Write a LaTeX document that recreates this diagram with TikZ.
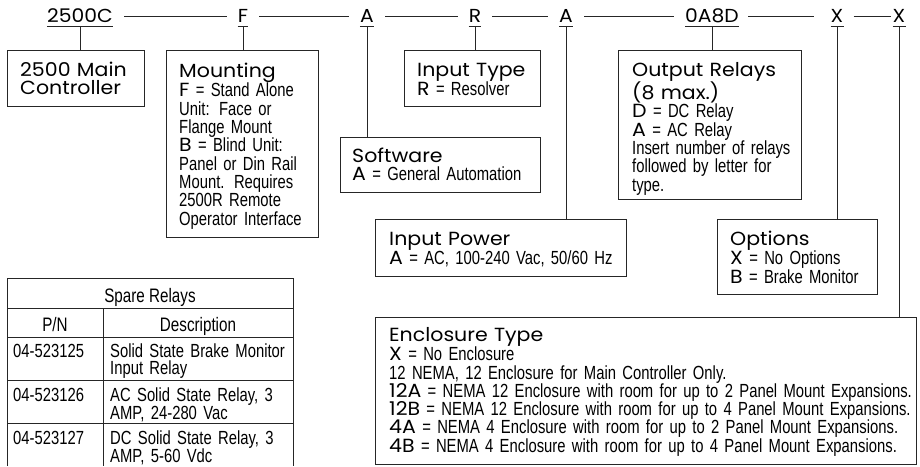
\documentclass[tikz,border=0pt]{standalone}
\usepackage{fontspec}
\setmainfont{Liberation Sans}
\newfontfamily\hfont[FakeStretch=1.08]{Poppins}
\newfontfamily\nfont[FakeStretch=0.78]{Liberation Sans}
\newcommand{\hf}[1]{{\hfont #1}}
\usetikzlibrary{positioning,calc}

\begin{document}
\begin{tikzpicture}[x=1pt, y=-1pt,
    box/.style={draw=black!85, line width=1pt, anchor=north west, inner sep=0pt},
    txt/.style={anchor=base west, inner sep=0pt, align=left, text width=540pt, font=\nfont\fontsize{19}{18.3}\selectfont},
    code/.style={inner sep=0pt, text height=13pt, text depth=0pt, font=\hfont\fontsize{18.8}{18.8}\selectfont},
    link/.style={draw=black!85, line width=0.9pt, shorten <=11pt, shorten >=11pt},
    drop/.style={draw=black!85, line width=1pt},
    th/.style={anchor=base, inner sep=0pt, font=\nfont\fontsize{19.5}{17}\selectfont},
    td/.style={anchor=base west, inner sep=0pt, align=left, text width=200pt, font=\nfont\fontsize{19}{17}\selectfont}
]
    \useasboundingbox (0,0) rectangle (920,466);

    % part number row
    \node[code] (pn-ctl) at (80,16) {2500C};
    \node[code] (pn-mnt) at (243,16) {F};
    \node[code] (pn-sw) at (367,16) {A};
    \node[code] (pn-in) at (475,16) {R};
    \node[code] (pn-pwr) at (566,16) {A};
    \node[code] (pn-out) at (712,16) {0A8D};
    \node[code] (pn-opt) at (837,16) {X};
    \node[code] (pn-enc) at (899,16) {X};

    \draw[link] (pn-ctl) -- (pn-mnt);
    \draw[link] (pn-mnt) -- (pn-sw);
    \draw[link] (pn-sw) -- (pn-in);
    \draw[link] (pn-in) -- (pn-pwr);
    \draw[link] (pn-pwr) -- (pn-out);
    \draw[link, shorten <=9pt, shorten >=17pt] (pn-out) -- (pn-opt);
    \draw[link, shorten <=10pt, shorten >=2pt] (pn-opt) -- (pn-enc);

    \foreach \c in {pn-ctl,pn-mnt,pn-sw,pn-in,pn-pwr,pn-out,pn-opt,pn-enc}
        \draw[drop] ([yshift=-3.5pt]\c.south west) -- ([yshift=-3.5pt]\c.south east);

    % boxes
    \node[box, minimum width=137pt, minimum height=56pt] (ctl) at (7,50) {};
    \node[box, minimum width=152pt, minimum height=187pt] (mnt) at (166,50) {};
    \node[box, minimum width=136pt, minimum height=56pt] (in) at (404,50) {};
    \node[box, minimum width=200pt, minimum height=55pt] (sw) at (340,137) {};
    \node[box, minimum width=183pt, minimum height=149pt] (out) at (618,50) {};
    \node[box, minimum width=251pt, minimum height=57pt] (pwr) at (375,219) {};
    \node[box, minimum width=160pt, minimum height=75pt] (opt) at (717,219) {};
    \node[box, minimum width=541pt, minimum height=147pt] (enc) at (375,317) {};

    \draw[drop] ([yshift=-3.5pt]pn-ctl.south) -- (pn-ctl.south |- ctl.north);
    \draw[drop] ([yshift=-3.5pt]pn-mnt.south) -- (pn-mnt.south |- mnt.north);
    \draw[drop] ([yshift=-3.5pt]pn-sw.south) -- (pn-sw.south |- sw.north);
    \draw[drop] ([yshift=-3.5pt]pn-in.south) -- (pn-in.south |- in.north);
    \draw[drop] ([yshift=-3.5pt]pn-pwr.south) -- (pn-pwr.south |- pwr.north);
    \draw[drop] ([yshift=-3.5pt]pn-out.south) -- (pn-out.south |- out.north);
    \draw[drop] ([yshift=-3.5pt]pn-opt.south) -- (pn-opt.south |- opt.north);
    \draw[drop] ([yshift=-3.5pt]pn-enc.south) -- (pn-enc.south |- enc.north);

    % box texts
    \node[txt] (ctl-t) at (20,76) {\hf{2500 Main\\Controller}};
    \node[txt] (mnt-t) at (179,77) {\hf{Mounting}\\ \hf{F} = Stand Alone\\ Unit: Face or\\ Flange Mount\\ \hf{B} = Blind Unit:\\ Panel or Din Rail\\ Mount. Requires\\ 2500R Remote\\ Operator Interface};
    \node[txt] (in-t) at (417,76) {\hf{Input Type}\\ \hf{R} = Resolver};
    \node[txt] (sw-t) at (352,162) {\hf{Software}\\ \hf{A} = General Automation};
    \node[txt] (out-t) at (632,76) {\hf{Output Relays}\\ \hf{(8 max.)}\\ \hf{D} = DC Relay\\ \hf{A} = AC Relay\\ Insert number of relays\\ followed by letter for\\ type.};
    \node[txt] (pwr-t) at (389,245) {\hf{Input Power}\\ \hf{A} = AC, 100-240 Vac, 50/60 Hz};
    \node[txt] (opt-t) at (730,245) {\hf{Options}\\ \hf{X} = No Options\\ \hf{B} = Brake Monitor};
    \node[txt] (enc-t) at (389,341) {\hf{Enclosure Type}\\ \hf{X} = No Enclosure\\ 12 NEMA, 12 Enclosure for Main Controller Only.\\ \hf{12A} = NEMA 12 Enclosure with room for up to 2 Panel Mount Expansions.\\ \hf{12B} = NEMA 12 Enclosure with room for up to 4 Panel Mount Expansions.\\ \hf{4A} = NEMA 4 Enclosure with room for up to 2 Panel Mount Expansions.\\ \hf{4B} = NEMA 4 Enclosure with room for up to 4 Panel Mount Expansions.};

    % spare relays table
    \draw[drop] (7,466) -- (7,278) -- (293,278) -- (293,466);
    \draw[drop] (7,308) -- (293,308);
    \draw[drop] (7,337) -- (293,337);
    \draw[drop] (7,380) -- (293,380);
    \draw[drop] (7,423) -- (293,423);
    \draw[drop] (103,308) -- (103,466);

    \node[th] (sr) at (150,302) {Spare Relays};
    \node[th] (pn) at (55,331) {P/N};
    \node[th] (ds) at (198,331) {Description};
    \node[td] (p1) at (13,357) {04-523125};
    \node[td] (d1) at (110,357) {Solid State Brake Monitor\\ Input Relay};
    \node[td] (p2) at (13,401) {04-523126};
    \node[td] (d2) at (110,401) {AC Solid State Relay, 3\\ AMP, 24-280 Vac};
    \node[td] (p3) at (13,444) {04-523127};
    \node[td] (d3) at (110,444) {DC Solid State Relay, 3\\ AMP, 5-60 Vdc};
\end{tikzpicture}
\end{document}
